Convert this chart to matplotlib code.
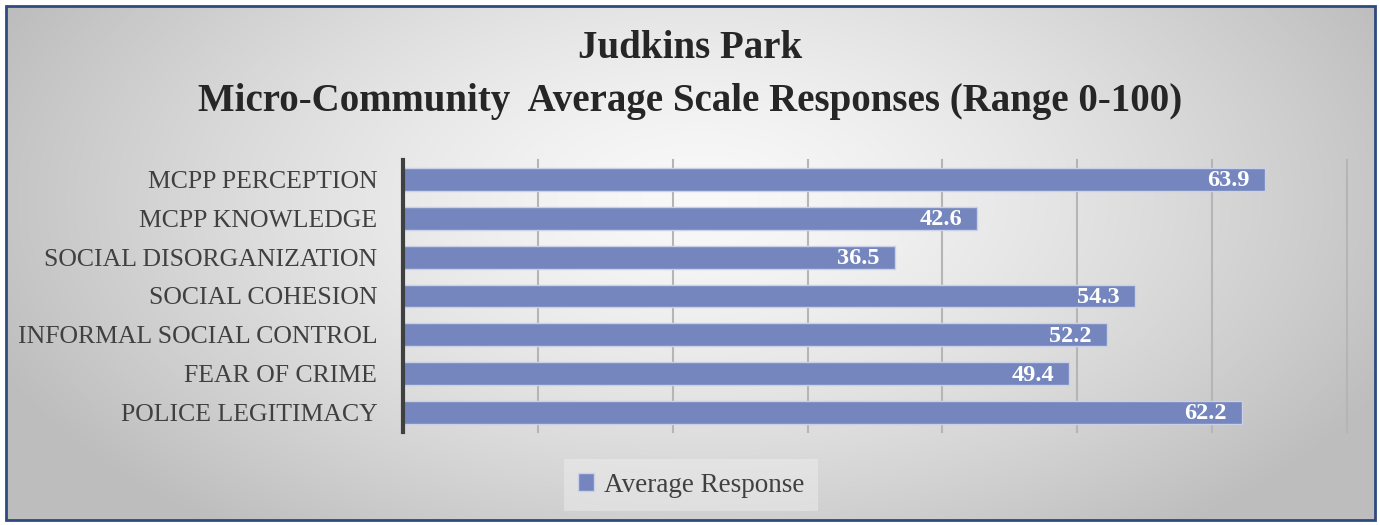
import numpy as np
import matplotlib
matplotlib.use("Agg")
import matplotlib.pyplot as plt
from matplotlib.patches import Rectangle

categories = ["MCPP PERCEPTION", "MCPP KNOWLEDGE", "SOCIAL DISORGANIZATION",
              "SOCIAL COHESION", "INFORMAL SOCIAL CONTROL", "FEAR OF CRIME",
              "POLICE LEGITIMACY"]
values = [63.9, 42.6, 36.5, 54.3, 52.2, 49.4, 62.2]
series_name = "Average Response"
title_lines = ["Judkins Park", "Micro-Community  Average Scale Responses (Range 0-100)"]

plt.rcParams['font.family'] = ['Liberation Serif', 'DejaVu Serif']

W, H = 1380, 525
fig = plt.figure(figsize=(W / 100, H / 100), dpi=100)
fig.patch.set_facecolor('white')

# background gradient panel
bg = fig.add_axes([0, 0, 1, 1], zorder=-10)
bg.set_xlim(0, W)
bg.set_ylim(H, 0)
bg.axis('off')
x0, y0, x1, y1 = 6, 6, 1375, 520
xx, yy = np.meshgrid(np.linspace(x0, x1, 400), np.linspace(y0, y1, 200))
cx, cy = 700, 200
d = np.sqrt(((xx - cx) / 760.0) ** 2 + ((yy - cy) / 420.0) ** 2)
d = np.clip(d, 0, 1)
g = 0.975 - 0.23 * d ** 1.4
img = np.dstack([g, g, g])
bg.imshow(img, extent=[x0, x1, y1, y0], aspect='auto', interpolation='bilinear')
bg.add_patch(Rectangle((x0, y0), x1 - x0, y1 - y0, fill=False,
                       edgecolor='#2E4A80', lw=2))

ax = fig.add_axes([403 / W, 1 - 432 / H, (1347 - 403) / W, (432 - 160) / H])
ax.patch.set_alpha(0)
y = np.arange(len(categories))
bars = ax.barh(y, values, height=0.59, color='#7486BD', edgecolor='#C9D0E8',
               linewidth=1.0, zorder=3, label=series_name)
ax.set_xlim(0, 70)
ax.set_ylim(len(categories) - 0.5, -0.5)
ax.set_yticks(y)
ax.set_yticklabels(categories, fontsize=18.5, color='#404040')
ax.set_xticks(np.arange(0, 71, 10))
ax.set_xticklabels([])
ax.tick_params(axis='both', length=0)
ax.tick_params(axis='y', pad=18.5)
ax.grid(axis='x', color='#B5B5B5', lw=1.5, zorder=0)
for gl in ax.get_xgridlines():
    gl.set_clip_on(False)
for s in ['top', 'right', 'bottom']:
    ax.spines[s].set_visible(False)
ax.spines['left'].set_color('#404040')
ax.spines['left'].set_linewidth(3)
ax.spines['left'].set_zorder(5)

for yi, v in zip(y, values):
    ax.annotate(f"{v:.1f}", xy=(v, yi), xytext=(-11, -1), textcoords='offset points',
                ha='right', va='center', fontsize=17.5, fontweight='bold',
                color='white', zorder=6)

fig.text(0.5, 1 - 49 / H, title_lines[0], ha='center', va='center',
         fontsize=28, fontweight='bold', color='#262626')
fig.text(0.5, 1 - 102 / H, title_lines[1], ha='center', va='center',
         fontsize=28, fontweight='bold', color='#262626')

leg = fig.legend(handles=[bars], labels=[series_name], loc='center',
                 bbox_to_anchor=(691 / W, 1 - 485 / H), frameon=True,
                 fontsize=19.5, handlelength=0.6, handleheight=0.6,
                 borderpad=0.5, handletextpad=0.35, borderaxespad=0)
leg.get_frame().set_facecolor('#EDEDED')
leg.get_frame().set_edgecolor('none')
leg.get_frame().set_alpha(0.5)
leg.get_frame().set_boxstyle('square', pad=0)
for t in leg.get_texts():
    t.set_color('#404040')

fig.savefig('out.png', dpi=100)
